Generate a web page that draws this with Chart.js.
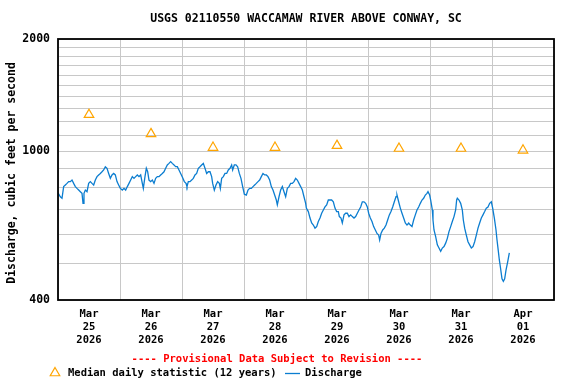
<!DOCTYPE html>
<html>
<head>
<meta charset="utf-8">
<script src="https://cdn.jsdelivr.net/npm/chart.js@4/dist/chart.umd.min.js"></script>
<style>
  html, body { margin: 0; padding: 0; background: #fff; }
  #wrap { width: 576px; height: 384px; }
</style>
</head>
<body>
<div id="wrap"><canvas id="flow-chart" width="576" height="384"></canvas></div>
<script>
const siteTitle = 'USGS 02110550 WACCAMAW RIVER ABOVE CONWAY, SC';
const yTitle = 'Discharge, cubic feet per second ';
const provisionalNote = '---- Provisional Data Subject to Revision ----';

// x = hours since Mar 25 2026 00:00
const tickMonths = ['Mar', 'Mar', 'Mar', 'Mar', 'Mar', 'Mar', 'Mar', 'Apr'];
const tickDays = ['25', '26', '27', '28', '29', '30', '31', '01'];
const tickYears = ['2026', '2026', '2026', '2026', '2026', '2026', '2026', '2026'];
const xTickHours = [0, 12, 24, 36, 48, 60, 72, 84, 96, 108, 120, 132, 144, 156, 168, 180, 192];

const yGridValues = [400, 500, 600, 700, 800, 900, 1000, 1100, 1200, 1300, 1400, 1500, 1600, 1700, 1800, 1900, 2000];
const yLabelValues = [400, 1000, 2000];

const medianHours = [12, 36, 60, 84, 108, 132, 156, 180];
const medianCfs = [1254, 1114, 1024, 1024, 1036, 1018, 1018, 1007];

const dischargeHours = [
  0, 0.9, 1.55, 2.19, 2.84, 3.48, 4.13, 4.77, 5.42, 6.06, 6.71, 7.35, 8.0, 8.65, 9.29, 9.68, 10.06, 10.58, 11.23, 11.87,
  12.52, 13.16, 13.81, 14.45, 15.1, 15.74, 16.39, 17.03, 17.68, 18.32, 18.97, 19.61, 20.26, 20.9, 21.55, 22.19, 22.84, 23.48,
  24.13, 24.9, 25.55, 26.19, 26.84, 27.48, 28.13, 28.77, 29.42, 30.06, 30.71, 31.35, 32.0, 32.64, 33.03, 33.67, 34.19, 34.71,
  35.22, 35.87, 36.51, 37.16, 37.8, 38.45, 39.09, 39.74, 40.38, 41.03, 41.67, 42.32, 42.96, 43.61, 44.25, 44.9, 45.54, 46.19,
  46.83, 47.48,
  48.26, 48.9, 49.55, 49.93, 50.45, 51.09, 51.74, 52.38, 53.03, 53.67, 54.32, 54.96, 55.61, 56.25, 56.9, 57.55, 58.19, 58.84,
  59.48, 59.87, 60.51, 61.16, 61.8, 62.45, 62.84, 63.35, 64.0, 64.64, 65.29, 65.93, 66.58, 67.22, 67.61, 68.25, 68.9, 69.54,
  70.19, 70.83, 71.48,
  72.13, 72.9, 73.55, 74.19, 74.84, 75.48, 76.13, 76.77, 77.42, 78.06, 78.71, 79.35, 80.0, 80.64, 81.29, 81.93, 82.58, 83.22,
  83.87, 84.51, 84.9, 85.55, 86.19, 86.84, 87.48, 88.13, 88.77, 89.42, 90.06, 90.71, 91.35, 92.0, 92.64, 93.29, 93.93, 94.58,
  95.22, 95.87,
  96.13, 96.9, 97.55, 98.19, 98.84, 99.48, 100.13, 100.77, 101.42, 102.06, 102.71, 103.35, 104.0, 104.64, 105.29, 105.93,
  106.58, 107.22, 107.87, 108.51, 108.9, 109.55, 110.06, 110.71, 111.35, 112.0, 112.64, 113.29, 113.93, 114.58, 115.22,
  115.87, 116.51, 117.16, 117.8, 118.45, 119.09, 119.74,
  120.26, 120.9, 121.55, 122.19, 122.84, 123.48, 124.13, 124.51, 125.03, 125.68, 126.32, 126.97, 127.61, 128.26, 128.9,
  129.55, 130.19, 130.84, 131.22, 131.87, 132.51, 133.16, 133.8, 134.45, 135.09, 135.74, 136.38, 137.03, 137.67, 138.32,
  138.96, 139.61, 140.25, 140.9, 141.54, 142.19, 142.83, 143.22, 143.87,
  144.26, 144.9, 145.16, 145.55, 146.19, 146.84, 147.48, 148.13, 148.77, 149.42, 150.06, 150.71, 151.35, 152.0, 152.64,
  153.29, 153.93, 154.32, 154.58, 155.22, 155.87, 156.51, 156.9, 157.42, 158.06, 158.71, 159.35, 160.0, 160.64, 161.29,
  161.93, 162.58, 163.22, 163.87, 164.51, 165.16, 165.8, 166.45, 167.09, 167.74,
  168.26, 168.91, 169.55, 169.94, 170.46, 170.84, 171.23, 171.87, 172.39, 172.91, 173.42, 174.07, 174.71
];
const dischargeCfs = [
  775, 756, 749, 805, 813, 821, 830, 830, 838, 821, 805, 796, 788, 780, 772, 726, 772, 788, 780, 821,
  830, 821, 813, 838, 856, 865, 873, 882, 892, 910, 901, 873, 847, 865, 873, 865, 830, 813,
  796, 788, 796, 788, 805, 821, 838, 856, 847, 856, 865, 856, 865, 821, 796, 856, 901, 882,
  838, 830, 838, 821, 847, 856, 856, 865, 873, 882, 901, 920, 929, 939, 929, 920, 910, 910,
  892, 873,
  850, 830, 821, 805, 830, 830, 838, 847, 865, 873, 901, 910, 920, 929, 901, 873, 882, 882,
  856, 821, 788, 813, 830, 821, 796, 847, 856, 873, 873, 892, 901, 920, 892, 920, 920, 910,
  873, 847, 805,
  768, 764, 788, 796, 796, 805, 813, 821, 830, 838, 856, 873, 865, 865, 856, 838, 805, 788,
  764, 741, 719, 756, 788, 805, 780, 756, 796, 805, 821, 821, 830, 847, 838, 821, 805, 788,
  756, 726,
  705, 690, 663, 643, 635, 623, 629, 649, 663, 683, 697, 710, 719, 741, 741, 741,
  733, 705, 690, 690, 669, 663, 643, 676, 683, 683, 669, 676, 669, 663, 669,
  683, 697, 710, 733, 733, 726, 710,
  683, 663, 649, 629, 616, 603, 597, 579, 603, 616, 623, 635, 655, 676, 690,
  710, 733, 756, 764, 733, 705, 683, 663, 643, 635, 643, 635, 629, 655, 676,
  697, 710, 726, 741, 749, 764, 772, 780, 764,
  741, 697, 655, 616, 591, 562, 551, 540, 551, 556, 568, 585, 610, 629, 649,
  669, 697, 741, 749, 741, 726, 697, 655, 623, 597, 573, 562, 551, 556, 573,
  597, 623, 643, 663, 676, 690, 705, 710, 726, 733,
  705, 663, 616, 579, 540, 512, 491, 456, 449, 456, 481, 506, 535
];

const medianColor = '#ffa500';
const flowColor = '#0b7dd0';
const gridGray = '#c8c8c8';
const monoFont = '"DejaVu Sans Mono", "Liberation Mono", monospace';

const medianPoints = medianHours.map((h, i) => ({x: h, y: medianCfs[i]}));
const flowPoints = dischargeHours.map((h, i) => ({x: h, y: dischargeCfs[i]}));

// black frame round the plot
const frameBorder = {
  id: 'frameBorder',
  afterDraw(chart) {
    const {ctx, chartArea} = chart;
    ctx.save();
    ctx.strokeStyle = '#000';
    ctx.lineWidth = 1.8;
    ctx.strokeRect(chartArea.left, chartArea.top, chartArea.right - chartArea.left, chartArea.bottom - chartArea.top);
    ctx.restore();
  }
};

// red provisional note and the usgs style legend under the axis
const bottomNotes = {
  id: 'bottomNotes',
  afterDraw(chart) {
    const ctx = chart.ctx;
    const med = chart.data.datasets[0];
    const flow = chart.data.datasets[1];
    ctx.save();
    ctx.font = 'bold 10.5px ' + monoFont;
    ctx.textBaseline = 'middle';
    ctx.textAlign = 'center';
    ctx.fillStyle = '#ff0000';
    ctx.fillText(provisionalNote, 277, 359);

    ctx.textAlign = 'left';
    ctx.strokeStyle = med.borderColor;
    ctx.fillStyle = 'rgba(0,0,0,0)';
    ctx.lineWidth = 1.2;
    Chart.helpers.drawPoint(ctx, {pointStyle: 'triangle', radius: 5.5, borderWidth: 1.2, rotation: 0}, 55, 373);
    ctx.fillStyle = '#000';
    ctx.fillText(med.label, 68, 373);

    ctx.strokeStyle = flow.borderColor;
    ctx.lineWidth = 1.3;
    ctx.beginPath();
    ctx.moveTo(285, 373.5);
    ctx.lineTo(300, 373.5);
    ctx.stroke();
    ctx.fillText(flow.label, 305, 373);
    ctx.restore();
  }
};

const flowConfig = {
  type: 'line',
  data: {
    datasets: [
      {
        label: 'Median daily statistic (12 years)',
        data: medianPoints,
        showLine: false,
        pointStyle: 'triangle',
        pointRadius: 5.5,
        pointBorderWidth: 1.2,
        borderColor: medianColor,
        backgroundColor: 'rgba(0,0,0,0)',
        pointBackgroundColor: 'rgba(0,0,0,0)'
      },
      {
        label: 'Discharge',
        data: flowPoints,
        borderColor: flowColor,
        borderWidth: 1.3,
        pointRadius: 0,
        tension: 0,
        fill: false
      }
    ]
  },
  options: {
    responsive: false,
    animation: false,
    events: [],
    layout: {padding: {left: 0, right: 22, top: 0, bottom: 34}},
    plugins: {
      legend: {display: false},
      tooltip: {enabled: false},
      title: {
        display: true,
        text: siteTitle,
        fullSize: false,
        color: '#000',
        font: {family: monoFont, size: 11.5, weight: 'bold'},
        padding: {top: 12.5, bottom: 12.7}
      }
    },
    scales: {
      x: {
        type: 'linear',
        min: 0,
        max: 192,
        afterBuildTicks: (scale) => { scale.ticks = xTickHours.map(v => ({value: v})); },
        afterFit: (scale) => { scale.height = 50; },
        border: {display: false},
        grid: {
          drawTicks: false,
          lineWidth: 1,
          color: (c) => (c.tick && c.tick.value % 24 === 0) ? gridGray : 'rgba(0,0,0,0)'
        },
        ticks: {
          autoSkip: false,
          maxRotation: 0,
          padding: 7.5,
          color: '#000',
          font: {family: monoFont, size: 10.5, weight: 'bold', lineHeight: 1.24},
          callback: (v) => {
            if (v % 24 !== 12) return '';
            const i = (v - 12) / 24;
            return [tickMonths[i], tickDays[i], tickYears[i]];
          }
        }
      },
      y: {
        type: 'logarithmic',
        min: 400,
        max: 2000,
        afterBuildTicks: (scale) => { scale.ticks = yGridValues.map(v => ({value: v})); },
        afterFit: (scale) => { scale.width = 58; },
        border: {display: false},
        grid: {drawTicks: false, color: gridGray, lineWidth: 1},
        ticks: {
          autoSkip: false,
          padding: 8,
          color: '#000',
          font: {family: monoFont, size: 11.5, weight: 'bold'},
          callback: (v) => yLabelValues.includes(v) ? String(v) : ''
        },
        title: {
          display: true,
          text: yTitle,
          color: '#000',
          font: {family: monoFont, size: 11.5, weight: 'bold'},
          padding: {top: 5, bottom: 0}
        }
      }
    }
  },
  plugins: [frameBorder, bottomNotes]
};

const flowChart = new Chart(document.getElementById('flow-chart'), flowConfig);
</script>
</body>
</html>
